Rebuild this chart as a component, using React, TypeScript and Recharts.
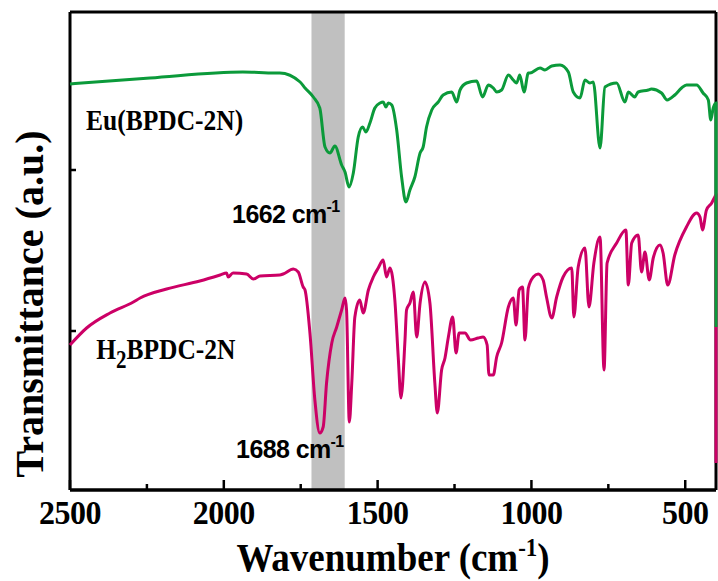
import React from 'react';
import { LineChart, Line, XAxis, YAxis, ReferenceArea, ReferenceDot } from 'recharts';

// Eu(BPDC-2N) spectrum (wavenumber in cm-1, transmittance in a.u.)
const euWavenumber = [2500, 2240, 1938, 1834, 1818, 1752, 1736, 1709, 1688, 1671, 1655, 1639, 1617, 1606, 1593, 1579, 1563, 1549, 1538, 1525, 1509, 1492, 1482, 1473, 1465, 1454, 1438, 1422, 1408, 1395, 1379, 1362, 1352, 1341, 1324, 1303, 1287, 1259, 1243, 1232, 1211, 1178, 1159, 1140, 1124, 1113, 1097, 1075, 1059, 1048, 1038, 1024, 1010, 1005, 972, 956, 934, 907, 880, 864, 842, 826, 810, 799, 777, 761, 723, 696, 685, 664, 653, 620, 610, 577, 559, 534, 512, 496, 463, 442, 425, 417, 409, 400, 400];
const euTransmittance = [406, 412, 418, 417, 417, 408, 402, 393, 382, 343, 337, 344, 325, 318, 303, 317, 353, 363, 358, 367, 382, 387, 388, 383, 387, 385, 360, 313, 288, 300, 313, 337, 343, 363, 380, 388, 395, 398, 388, 400, 407, 409, 393, 405, 402, 398, 400, 415, 410, 407, 415, 398, 417, 417, 422, 420, 424, 425, 418, 398, 392, 410, 407, 408, 342, 403, 407, 388, 398, 393, 398, 400, 401, 397, 390, 395, 402, 405, 405, 397, 390, 370, 382, 387, 163];

// H2BPDC-2N spectrum
const h2Wavenumber = [2500, 2446, 2370, 2294, 2272, 2186, 2078, 2012, 1991, 1986, 1970, 1926, 1904, 1882, 1818, 1807, 1774, 1758, 1742, 1736, 1720, 1704, 1688, 1677, 1666, 1649, 1633, 1617, 1606, 1601, 1592, 1584, 1574, 1558, 1547, 1530, 1514, 1498, 1482, 1471, 1460, 1444, 1433, 1424, 1411, 1406, 1395, 1384, 1373, 1362, 1346, 1330, 1314, 1306, 1292, 1281, 1270, 1256, 1245, 1235, 1216, 1198, 1173, 1157, 1144, 1138, 1124, 1113, 1097, 1075, 1059, 1050, 1040, 1029, 1021, 1010, 994, 978, 962, 951, 934, 918, 897, 869, 862, 848, 826, 813, 797, 777, 764, 754, 723, 693, 685, 674, 653, 642, 631, 617, 604, 582, 572, 557, 534, 496, 463, 452, 444, 431, 414, 404, 400, 400];
const h2Transmittance = [145, 162, 177, 188, 192, 201, 209, 215, 217, 213, 217, 216, 211, 214, 215, 216, 221, 218, 203, 200, 157, 90, 57, 63, 107, 147, 163, 180, 192, 180, 68, 107, 173, 190, 177, 200, 213, 222, 230, 213, 222, 190, 133, 92, 150, 180, 187, 198, 153, 187, 208, 187, 107, 77, 120, 132, 153, 173, 137, 157, 157, 150, 152, 153, 145, 115, 115, 133, 147, 183, 192, 165, 200, 203, 150, 202, 213, 216, 210, 193, 172, 193, 213, 222, 173, 223, 242, 183, 227, 253, 120, 227, 247, 260, 205, 247, 255, 218, 238, 210, 232, 245, 237, 205, 235, 263, 277, 273, 260, 280, 287, 293, 295, 27];

// axes
const xDomain = [400, 2500];
const xTicks = [2500, 2250, 2000, 1750, 1500, 1250, 1000, 750, 500];
const xMajorTicks = [2500, 2000, 1500, 1000, 500];
const yDomain = [0, 478];
const yTicks = [159, 320];

// highlighted band
const bandFrom = 1715;
const bandTo = 1607;

// annotations [wavenumber, transmittance]
const euLabelPos = [2448, 360];
const h2LabelPos = [2415, 131];
const peak1662Pos = [1973, 267];
const peak1688Pos = [1960, 32];

const euData = euWavenumber.map((w, i) => ({ wn: w, t: euTransmittance[i] }));
const h2Data = h2Wavenumber.map((w, i) => ({ wn: w, t: h2Transmittance[i] }));

const SERIF = "'Liberation Serif', 'Times New Roman', Times, serif";
const SANS = "'Liberation Sans', Arial, Helvetica, sans-serif";

const BottomTick = (props: any) => {
  const { x, y, payload } = props;
  const major = xMajorTicks.includes(payload.value);
  return (
    <g>
      <line x1={x} x2={x} y1={y} y2={y - (major ? 10 : 6)} stroke="#000" strokeWidth={2.5} />
      {major && (
        <text
          transform={`translate(${x},${y + 34}) scale(1,1.05)`}
          textAnchor="middle"
          fontFamily={SERIF}
          fontWeight="bold"
          fontSize={32}
          letterSpacing={-0.5}
          fill="#000"
        >
          {payload.value}
        </text>
      )}
    </g>
  );
};

const TopTick = (props: any) => {
  const { x, y } = props;
  return <line x1={x} x2={x} y1={y} y2={y + 4} stroke="#000" strokeWidth={2} />;
};

const LeftTick = (props: any) => {
  const { x, y } = props;
  return <line x1={x} x2={x + 6} y1={y} y2={y} stroke="#000" strokeWidth={2.5} />;
};

const XTitle = (props: any) => {
  const vb = props.viewBox;
  const cx = vb.x + vb.width / 2;
  return (
    <text
      transform={`translate(${cx},${vb.y + 81}) scale(1,1.1)`}
      textAnchor="middle"
      fontFamily={SERIF}
      fontWeight="bold"
      fontSize={37}
      fill="#000"
    >
      Wavenumber (cm
      <tspan fontSize={23} dy={-14}>-1</tspan>
      <tspan dy={14}>)</tspan>
    </text>
  );
};

const YTitle = () => (
  <text
    transform="translate(43,304) rotate(-90)"
    textAnchor="middle"
    fontFamily={SERIF}
    fontWeight="bold"
    fontSize={40}
    fill="#000"
  >
    Transmittance (a.u.)
  </text>
);

const EuLabel = (props: any) => {
  const { x, y } = props.viewBox;
  return (
    <text transform={`translate(${x},${y}) scale(1,1.15)`} fontFamily={SERIF} fontWeight="bold" fontSize={25.5} fill="#000">
      Eu(BPDC-2N)
    </text>
  );
};

const H2Label = (props: any) => {
  const { x, y } = props.viewBox;
  return (
    <text transform={`translate(${x},${y}) scale(1,1.15)`} fontFamily={SERIF} fontWeight="bold" fontSize={25.5} fill="#000">
      H
      <tspan fontSize={21} dy={8}>2</tspan>
      <tspan dy={-8}>BPDC-2N</tspan>
    </text>
  );
};

const PeakLabel = (text: string) => (props: any) => {
  const { x, y } = props.viewBox;
  return (
    <text x={x} y={y} fontFamily={SANS} fontWeight="bold" fontSize={25} letterSpacing={-0.6} fill="#000">
      {text}
      <tspan fontSize={16} dy={-11}>-1</tspan>
    </text>
  );
};

export default function App() {
  return (
    <div style={{ position: 'absolute', left: 0, top: 0, background: '#fff' }}>
      <LineChart width={718} height={581} margin={{ top: 11, right: 1, bottom: 90, left: 69 }}>
        <XAxis
          dataKey="wn"
          type="number"
          domain={xDomain}
          reversed
          ticks={xTicks}
          interval={0}
          height={1}
          tickSize={0}
          tickMargin={0}
          tickLine={false}
          axisLine={{ stroke: '#000', strokeWidth: 3.5 }}
          tick={<BottomTick />}
          label={{ content: <XTitle /> }}
          allowDuplicatedCategory
        />
        <XAxis
          xAxisId="top"
          orientation="top"
          dataKey="wn"
          type="number"
          domain={xDomain}
          reversed
          ticks={xTicks}
          interval={0}
          height={1}
          tickSize={0}
          tickMargin={0}
          tickLine={false}
          axisLine={{ stroke: '#000', strokeWidth: 3 }}
          tick={<TopTick />}
        />
        <YAxis
          type="number"
          domain={yDomain}
          ticks={yTicks}
          width={1}
          tickSize={0}
          tickMargin={0}
          tickLine={false}
          axisLine={{ stroke: '#000', strokeWidth: 3 }}
          tick={<LeftTick />}
          label={{ content: <YTitle /> }}
        />
        <YAxis
          yAxisId="right"
          orientation="right"
          type="number"
          domain={yDomain}
          width={1}
          tick={false}
          tickLine={false}
          axisLine={{ stroke: '#000', strokeWidth: 3 }}
        />
        <ReferenceArea x1={bandFrom} x2={bandTo} fill="#c0c0c0" fillOpacity={1} stroke="none" />
        <Line data={h2Data} dataKey="t" type="monotone" stroke="#cc0066" strokeWidth={3} dot={false} isAnimationActive={false} zIndex={600} />
        <Line data={euData} dataKey="t" type="monotone" stroke="#0b9a3a" strokeWidth={3} dot={false} isAnimationActive={false} zIndex={601} />
        <ReferenceDot x={euLabelPos[0]} y={euLabelPos[1]} r={0} fill="none" stroke="none" label={{ content: <EuLabel /> }} />
        <ReferenceDot x={h2LabelPos[0]} y={h2LabelPos[1]} r={0} fill="none" stroke="none" label={{ content: <H2Label /> }} />
        <ReferenceDot x={peak1662Pos[0]} y={peak1662Pos[1]} r={0} fill="none" stroke="none" label={{ content: PeakLabel('1662 cm') }} />
        <ReferenceDot x={peak1688Pos[0]} y={peak1688Pos[1]} r={0} fill="none" stroke="none" label={{ content: PeakLabel('1688 cm') }} />
      </LineChart>
    </div>
  );
}
